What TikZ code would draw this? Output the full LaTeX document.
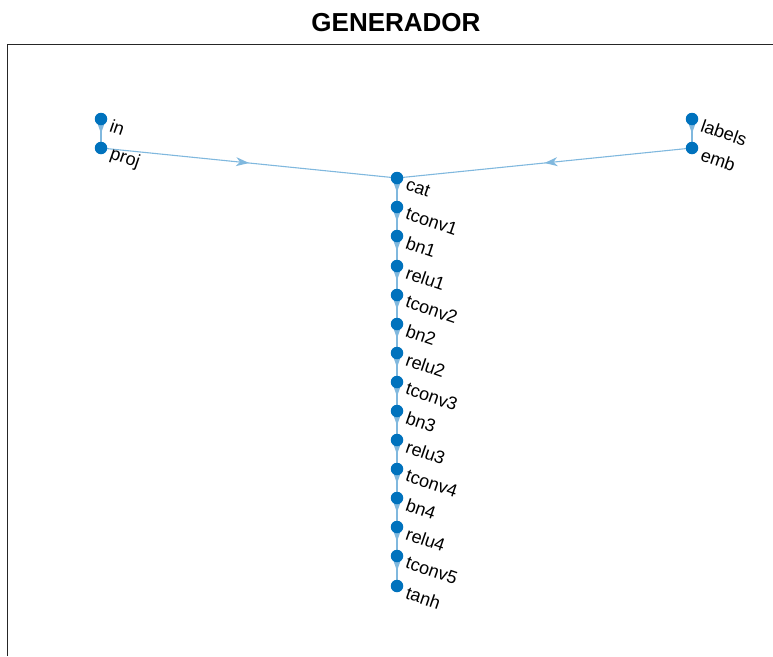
\documentclass[tikz,border=0pt]{standalone}
\usepackage{fontspec}
\setmainfont{Liberation Sans}
\usetikzlibrary{arrows.meta,decorations.markings}
\pgfdeclarelayer{background}
\pgfsetlayers{background,main}
\definecolor{nodeblue}{HTML}{0072BD}
\definecolor{edgeblue}{HTML}{80B8DE}
\definecolor{axisgray}{HTML}{262626}
\begin{document}
\begin{tikzpicture}[x=1pt,y=-1pt,
  gnode/.style={circle,fill=nodeblue,inner sep=0pt,minimum size=12.5pt},
  glabel/.style={anchor=west,rotate=-19,inner sep=0pt,font=\fontsize{18}{18}\selectfont},
  gedge/.style={draw=edgeblue,line width=1.1pt,postaction={decorate},
    decoration={markings,mark=at position 0.5 with {\arrow[edgeblue]{Stealth[length=13pt,width=9pt,inset=4pt]}}}}]
\useasboundingbox (0,0) rectangle (773,656);
\draw[axisgray,line width=0.9pt] (7,656) -- (7,44) -- (773,44);
\node[font=\fontsize{26}{26}\selectfont\bfseries] (title) at (396,23) {GENERADOR};
\foreach \nm/\x/\y in {in/101/119,proj/101/148,labels/692/119,emb/692/148,
  cat/397/178,tconv1/397/207,bn1/397/236,relu1/397/266,tconv2/397/295,bn2/397/324,
  relu2/397/353,tconv3/397/382,bn3/397/411,relu3/397/440,tconv4/397/469,bn4/397/498,
  relu4/397/527,tconv5/397/556,tanh/397/586}{
  \node[gnode] (\nm) at (\x,\y) {};
  \node[glabel] (l-\nm) at ([shift={(9.5,6)}]\nm.center) {\nm};
}
\begin{pgfonlayer}{background}
\foreach \a/\b in {in/proj,labels/emb,proj/cat,emb/cat,cat/tconv1,tconv1/bn1,bn1/relu1,
  relu1/tconv2,tconv2/bn2,bn2/relu2,relu2/tconv3,tconv3/bn3,bn3/relu3,relu3/tconv4,
  tconv4/bn4,bn4/relu4,relu4/tconv5,tconv5/tanh}{
  \path[gedge] (\a.center) -- (\b.center);
}
\end{pgfonlayer}
\end{tikzpicture}
\end{document}
